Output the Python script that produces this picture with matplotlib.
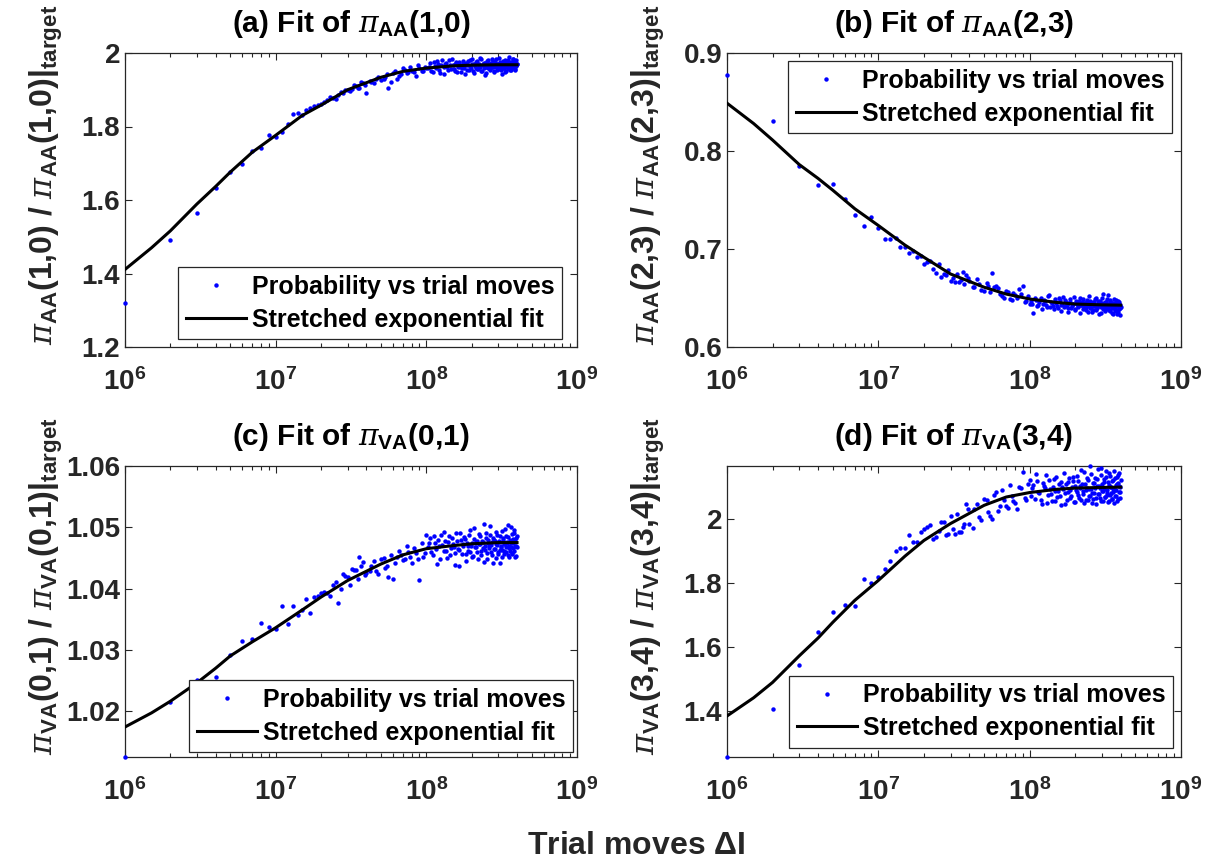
import numpy as np
import matplotlib
matplotlib.use("Agg")
import matplotlib.pyplot as plt
from matplotlib.ticker import LogLocator, NullFormatter, FixedLocator, FixedFormatter

plt.rcParams['font.family'] = ['Liberation Sans', 'DejaVu Sans']
plt.rcParams['font.weight'] = 'bold'
plt.rcParams['mathtext.fontset'] = 'custom'
plt.rcParams['mathtext.rm'] = 'Liberation Sans:weight=bold'
plt.rcParams['mathtext.bf'] = 'Liberation Sans:weight=bold'
plt.rcParams['mathtext.it'] = 'DejaVu Serif:style=italic:weight=normal'

# ---------------- data (trial moves in millions) ----------------
x_sparse = [1, 2, 3, 4, 5, 6, 7, 8, 9, 10, 11, 12, 13, 14, 15, 16, 17, 18, 19, 20,
            22, 24, 26, 28, 30, 32, 34, 36, 38, 40, 43, 46, 50, 53, 56, 60, 64, 68,
            72, 76, 80, 85, 90, 95, 100]
x_mid = [21, 23, 25, 27, 29, 31, 33, 35, 37, 39, 42, 45, 48, 52, 55, 58, 62, 66, 70,
         74, 78, 83, 88, 93, 98]
x_dense = list(range(102, 401, 4))
x_dense2 = list(range(104, 401, 4))
x_fit = [1, 1.5, 2, 3, 4, 5, 7, 10, 15, 20, 30, 50, 70, 100, 150, 200, 300, 400]

a_sparse = [1.320, 1.490, 1.565, 1.633, 1.676, 1.699, 1.733, 1.742, 1.776, 1.772,
            1.785, 1.806, 1.834, 1.837, 1.832, 1.845, 1.850, 1.856, 1.858, 1.861,
            1.872, 1.878, 1.886, 1.890, 1.900, 1.903, 1.910, 1.905, 1.918, 1.892,
            1.921, 1.928, 1.927, 1.935, 1.904, 1.946, 1.930, 1.942, 1.955, 1.948,
            1.950, 1.938, 1.960, 1.952, 1.959]
a_mid = [1.868, 1.879, 1.876, 1.893, 1.899, 1.897, 1.912, 1.906, 1.921, 1.913, 1.925,
         1.918, 1.936, 1.929, 1.942, 1.922, 1.950, 1.938, 1.958, 1.945, 1.961, 1.949,
         1.966, 1.952, 1.963]
a_dense = [1.958, 1.972, 1.949, 1.965, 1.977, 1.955, 1.968, 1.944, 1.971, 1.962,
           1.980, 1.957, 1.966, 1.951, 1.975, 1.963, 1.969, 1.948, 1.978, 1.960,
           1.973, 1.954, 1.967, 1.982, 1.959, 1.970, 1.946, 1.964, 1.976, 1.956,
           1.969, 1.961, 1.984, 1.952, 1.966, 1.974, 1.940, 1.963, 1.979, 1.958,
           1.971, 1.955, 1.968, 1.983, 1.961, 1.950, 1.975, 1.964, 1.970, 1.957,
           1.986, 1.962, 1.972, 1.953, 1.967, 1.978, 1.960, 1.969, 1.947, 1.974,
           1.965, 1.981, 1.958, 1.971, 1.963, 1.976, 1.954, 1.968, 1.985, 1.961,
           1.972, 1.956, 1.979, 1.966, 1.970]
a_dense2 = [1.963, 1.950, 1.975, 1.958, 1.969, 1.945, 1.980, 1.961, 1.972, 1.953,
            1.967, 1.983, 1.956, 1.970, 1.948, 1.976, 1.962, 1.959, 1.973, 1.942,
            1.968, 1.978, 1.955, 1.965, 1.984, 1.951, 1.971, 1.960, 1.977, 1.957,
            1.964, 1.987, 1.952, 1.969, 1.958, 1.974, 1.946, 1.966, 1.981, 1.960,
            1.956, 1.972, 1.963, 1.979, 1.949, 1.968, 1.961, 1.985, 1.954, 1.970,
            1.962, 1.975, 1.957, 1.967, 1.943, 1.973, 1.960, 1.982, 1.965, 1.951,
            1.977, 1.959, 1.969, 1.988, 1.955, 1.966, 1.974, 1.958, 1.983, 1.962,
            1.968, 1.953, 1.980, 1.964, 1.971]
a_fit = [1.411, 1.470, 1.516, 1.589, 1.637, 1.676, 1.730, 1.776, 1.830, 1.858,
         1.900, 1.934, 1.950, 1.959, 1.965, 1.967, 1.968, 1.968]

b_sparse = [0.8775, 0.8306, 0.7845, 0.7657, 0.7668, 0.7507, 0.7350, 0.7237, 0.7322, 0.7213,
            0.7100, 0.7100, 0.7110, 0.7020, 0.7020, 0.6964, 0.6980, 0.6916, 0.6930, 0.6848,
            0.6880, 0.6760, 0.6710, 0.6730, 0.6677, 0.6666, 0.6660, 0.6762, 0.6735, 0.6670,
            0.6615, 0.6640, 0.6570, 0.6620, 0.6752, 0.6620, 0.6545, 0.6500, 0.6560, 0.6480,
            0.6530, 0.6590, 0.6626, 0.6470, 0.6440]
b_mid = [0.6870, 0.6800, 0.6850, 0.6740, 0.6790, 0.6700, 0.6745, 0.6680, 0.6640, 0.6700,
         0.6610, 0.6690, 0.6585, 0.6650, 0.6560, 0.6610, 0.6600, 0.6520, 0.6570, 0.6490,
         0.6550, 0.6500, 0.6540, 0.6460, 0.6520]
b_dense = [0.6470, 0.6352, 0.6480, 0.6425, 0.6500, 0.6440, 0.6465, 0.6410, 0.6530, 0.6455,
           0.6420, 0.6490, 0.6445, 0.6400, 0.6475, 0.6430, 0.6510, 0.6415, 0.6460, 0.6395,
           0.6450, 0.6485, 0.6420, 0.6440, 0.6380, 0.6470, 0.6435, 0.6405, 0.6495, 0.6425,
           0.6455, 0.6390, 0.6445, 0.6410, 0.6480, 0.6360, 0.6430, 0.6465, 0.6400, 0.6440,
           0.6375, 0.6460, 0.6420, 0.6500, 0.6395, 0.6435, 0.6415, 0.6470, 0.6350, 0.6445,
           0.6425, 0.6540, 0.6400, 0.6455, 0.6385, 0.6430, 0.6490, 0.6410, 0.6440, 0.6365,
           0.6475, 0.6420, 0.6395, 0.6450, 0.6340, 0.6435, 0.6405, 0.6480, 0.6380, 0.6445,
           0.6415, 0.6360, 0.6460, 0.6400, 0.6425]
b_dense2 = [0.6440, 0.6505, 0.6415, 0.6460, 0.6390, 0.6475, 0.6430, 0.6520, 0.6405, 0.6450,
            0.6385, 0.6465, 0.6420, 0.6495, 0.6370, 0.6440, 0.6410, 0.6480, 0.6425, 0.6355,
            0.6460, 0.6400, 0.6435, 0.6515, 0.6390, 0.6450, 0.6420, 0.6470, 0.6345, 0.6430,
            0.6490, 0.6405, 0.6445, 0.6375, 0.6465, 0.6415, 0.6525, 0.6395, 0.6440, 0.6360,
            0.6455, 0.6420, 0.6485, 0.6380, 0.6430, 0.6470, 0.6335, 0.6445, 0.6410, 0.6500,
            0.6390, 0.6450, 0.6425, 0.6365, 0.6460, 0.6405, 0.6530, 0.6435, 0.6380, 0.6470,
            0.6415, 0.6345, 0.6445, 0.6400, 0.6490, 0.6370, 0.6430, 0.6455, 0.6340, 0.6420,
            0.6465, 0.6385, 0.6440, 0.6330, 0.6410]
b_fit = [0.8488, 0.8280, 0.8112, 0.7862, 0.7720, 0.7600, 0.7410, 0.7240, 0.7040, 0.6916,
         0.6745, 0.6610, 0.6540, 0.6490, 0.6455, 0.6438, 0.6430, 0.6427]

c_sparse = [1.0125, 1.0215, 1.0250, 1.0255, 1.0291, 1.0315, 1.0317, 1.0344, 1.0338, 1.0334,
            1.0371, 1.0342, 1.0371, 1.0357, 1.0365, 1.0383, 1.0360, 1.0386, 1.0388, 1.0392,
            1.0393, 1.0405, 1.0377, 1.0424, 1.0418, 1.0432, 1.0430, 1.0452, 1.0443, 1.0425,
            1.0437, 1.0428, 1.0448, 1.0433, 1.0418, 1.0415, 1.0452, 1.0455, 1.0448, 1.0460,
            1.0442, 1.0458, 1.0414, 1.0452, 1.0487]
c_mid = [1.0395, 1.0388, 1.0410, 1.0399, 1.0421, 1.0405, 1.0430, 1.0415, 1.0437, 1.0422,
         1.0428, 1.0445, 1.0423, 1.0450, 1.0436, 1.0455, 1.0441, 1.0462, 1.0447, 1.0470,
         1.0452, 1.0466, 1.0448, 1.0474, 1.0458]
c_dense = [1.0468, 1.0482, 1.0455, 1.0475, 1.0440, 1.0470, 1.0488, 1.0462, 1.0477, 1.0450,
           1.0485, 1.0466, 1.0473, 1.0458, 1.0491, 1.0464, 1.0436, 1.0479, 1.0469, 1.0484,
           1.0457, 1.0474, 1.0462, 1.0495, 1.0470, 1.0452, 1.0481, 1.0467, 1.0476, 1.0460,
           1.0489, 1.0472, 1.0455, 1.0478, 1.0466, 1.0505, 1.0463, 1.0483, 1.0448, 1.0474,
           1.0469, 1.0487, 1.0459, 1.0476, 1.0442, 1.0480, 1.0465, 1.0492, 1.0471, 1.0456,
           1.0478, 1.0463, 1.0486, 1.0468, 1.0451, 1.0482, 1.0473, 1.0461, 1.0497, 1.0467,
           1.0476, 1.0454, 1.0484, 1.0470, 1.0462, 1.0500, 1.0474, 1.0458, 1.0481, 1.0466,
           1.0490, 1.0452, 1.0477, 1.0469, 1.0485]
c_dense2 = [1.0474, 1.0459, 1.0486, 1.0465, 1.0479, 1.0448, 1.0471, 1.0493, 1.0462, 1.0476,
            1.0454, 1.0483, 1.0468, 1.0439, 1.0477, 1.0463, 1.0490, 1.0457, 1.0473, 1.0481,
            1.0445, 1.0470, 1.0487, 1.0460, 1.0475, 1.0453, 1.0498, 1.0467, 1.0478, 1.0449,
            1.0472, 1.0485, 1.0461, 1.0476, 1.0443, 1.0469, 1.0490, 1.0458, 1.0480, 1.0466,
            1.0502, 1.0471, 1.0455, 1.0483, 1.0464, 1.0477, 1.0450, 1.0473, 1.0488, 1.0460,
            1.0476, 1.0441, 1.0469, 1.0494, 1.0463, 1.0479, 1.0456, 1.0472, 1.0485, 1.0459,
            1.0474, 1.0503, 1.0466, 1.0451, 1.0480, 1.0468, 1.0489, 1.0457, 1.0475, 1.0462,
            1.0496, 1.0470, 1.0453, 1.0482, 1.0467]
c_fit = [1.0174, 1.0197, 1.0216, 1.0246, 1.0270, 1.0290, 1.0313, 1.0336, 1.0365, 1.0386,
         1.0413, 1.0440, 1.0455, 1.0465, 1.0470, 1.0473, 1.0475, 1.0475]

d_sparse = [1.2547, 1.404, 1.542, 1.646, 1.708, 1.731, 1.728, 1.810, 1.798, 1.817,
            1.844, 1.867, 1.899, 1.909, 1.908, 1.950, 1.927, 1.927, 1.958, 1.967,
            1.979, 1.944, 1.990, 1.948, 2.010, 1.953, 1.960, 1.975, 2.047, 1.984,
            2.030, 2.005, 2.063, 2.020, 2.000, 2.085, 2.040, 2.060, 2.035, 2.070,
            2.050, 2.100, 2.145, 2.060, 2.120]
d_mid = [1.975, 1.938, 1.962, 1.990, 1.952, 1.968, 2.015, 1.960, 1.985, 2.030, 1.970,
         2.045, 1.995, 2.060, 2.010, 2.075, 2.025, 2.090, 2.040, 2.105, 2.055, 2.030,
         2.095, 2.065, 2.110]
d_dense = [2.070, 2.105, 2.140, 2.085, 2.060, 2.112, 2.095, 2.048, 2.122, 2.078,
           2.100, 2.055, 2.131, 2.088, 2.070, 2.115, 2.092, 2.045, 2.108, 2.083,
           2.127, 2.066, 2.098, 2.118, 2.052, 2.090, 2.135, 2.075, 2.104, 2.060,
           2.110, 2.086, 2.145, 2.058, 2.097, 2.120, 2.072, 2.164, 2.093, 2.050,
           2.113, 2.081, 2.128, 2.065, 2.102, 2.157, 2.077, 2.095, 2.138, 2.056,
           2.108, 2.087, 2.125, 2.068, 2.150, 2.091, 2.074, 2.116, 2.054, 2.100,
           2.134, 2.082, 2.061, 2.121, 2.094, 2.148, 2.071, 2.106, 2.089, 2.130,
           2.063, 2.111, 2.142, 2.084, 2.099]
d_dense2 = [2.095, 2.062, 2.118, 2.080, 2.047, 2.103, 2.136, 2.073, 2.092, 2.055,
            2.125, 2.086, 2.067, 2.110, 2.043, 2.098, 2.142, 2.079, 2.058, 2.114,
            2.090, 2.070, 2.132, 2.053, 2.101, 2.084, 2.119, 2.064, 2.097, 2.153,
            2.076, 2.049, 2.108, 2.089, 2.127, 2.059, 2.094, 2.072, 2.139, 2.082,
            2.061, 2.112, 2.096, 2.046, 2.123, 2.078, 2.104, 2.066, 2.160, 2.087,
            2.057, 2.115, 2.093, 2.069, 2.130, 2.081, 2.052, 2.107, 2.144, 2.074,
            2.099, 2.063, 2.117, 2.085, 2.048, 2.126, 2.091, 2.071, 2.109, 2.056,
            2.137, 2.083, 2.101, 2.065, 2.120]
d_fit = [1.383, 1.440, 1.488, 1.571, 1.627, 1.676, 1.745, 1.807, 1.883, 1.932,
         1.985, 2.042, 2.068, 2.082, 2.092, 2.096, 2.098, 2.099]

titles = [r'(a) Fit of $\pi_{\mathbf{AA}}$(1,0)', r'(b) Fit of $\pi_{\mathbf{AA}}$(2,3)',
          r'(c) Fit of $\pi_{\mathbf{VA}}$(0,1)', r'(d) Fit of $\pi_{\mathbf{VA}}$(3,4)']
ylabels = [r'$\pi_{\mathbf{AA}}$(1,0) / $\pi_{\mathbf{AA}}$(1,0)$|_{\mathbf{target}}$',
           r'$\pi_{\mathbf{AA}}$(2,3) / $\pi_{\mathbf{AA}}$(2,3)$|_{\mathbf{target}}$',
           r'$\pi_{\mathbf{VA}}$(0,1) / $\pi_{\mathbf{VA}}$(0,1)$|_{\mathbf{target}}$',
           r'$\pi_{\mathbf{VA}}$(3,4) / $\pi_{\mathbf{VA}}$(3,4)$|_{\mathbf{target}}$']
ylims = [(1.2, 2.0), (0.6, 0.9), (1.0125, 1.06), (1.2547, 2.165)]
yticks = [[1.2, 1.4, 1.6, 1.8, 2.0], [0.6, 0.7, 0.8, 0.9],
          [1.02, 1.03, 1.04, 1.05, 1.06], [1.4, 1.6, 1.8, 2.0]]
yticklabels = [['1.2', '1.4', '1.6', '1.8', '2'], ['0.6', '0.7', '0.8', '0.9'],
               ['1.02', '1.03', '1.04', '1.05', '1.06'], ['1.4', '1.6', '1.8', '2']]
xticks = [1e6, 1e7, 1e8, 1e9]
xticklabels = [r'$\mathbf{10^{6}}$', r'$\mathbf{10^{7}}$', r'$\mathbf{10^{8}}$', r'$\mathbf{10^{9}}$']
series = [(a_sparse, a_mid, a_dense, a_dense2, a_fit),
          (b_sparse, b_mid, b_dense, b_dense2, b_fit),
          (c_sparse, c_mid, c_dense, c_dense2, c_fit),
          (d_sparse, d_mid, d_dense, d_dense2, d_fit)]
legend_loc = ['lower right', 'upper right', 'lower right', 'lower right']
legend_anchor = [(0.967, 0.027), (0.980, 0.9715), (0.991, 0.017), (0.983, 0.032)]

# ---------------- figure ----------------
W, H = 1210, 868
fig = plt.figure(figsize=(W / 100, H / 100), dpi=100)
boxes = [(125, 53, 577, 347), (727, 53, 1181, 347), (125, 466, 577, 757), (727, 466, 1181, 757)]
axc = '#262626'
for i, (l, t, r, b) in enumerate(boxes):
    ax = fig.add_axes([l / W, 1 - b / H, (r - l) / W, (b - t) / H])
    sp, md, dn, dn2, ft = series[i]
    xs = np.array(x_sparse + x_mid + x_dense + x_dense2) * 1e6
    ys = np.array(sp + md + dn + dn2)
    ax.plot(xs, ys, linestyle='none', marker='o', markersize=3.2, color='#0000ff',
            markeredgewidth=0, label='Probability vs trial moves', clip_on=False, zorder=3)
    ax.plot(np.array(x_fit) * 1e6, ft, color='black', linewidth=2.2,
            label='Stretched exponential fit', zorder=4)
    ax.set_xscale('log')
    ax.set_xlim(1e6, 1e9)
    ax.set_ylim(*ylims[i])
    ax.xaxis.set_major_locator(FixedLocator(xticks))
    ax.xaxis.set_major_formatter(FixedFormatter(xticklabels))
    ax.xaxis.set_minor_locator(LogLocator(base=10, subs=np.arange(2, 10)))
    ax.xaxis.set_minor_formatter(NullFormatter())
    ax.set_yticks(yticks[i])
    ax.set_yticklabels(yticklabels[i])
    ax.tick_params(which='both', direction='in', top=True, right=True, colors=axc,
                   labelcolor='#262626', labelsize=20, width=0.8)
    ax.tick_params(which='major', length=5)
    ax.tick_params(which='minor', length=3)
    ax.tick_params(axis='x', which='major', pad=15)
    for s in ax.spines.values():
        s.set_color(axc)
        s.set_linewidth(0.9)
    for lab in ax.get_yticklabels():
        lab.set_fontweight('bold')
    ax.set_title(titles[i], fontsize=21.5, fontweight='bold', pad=15, color='black')
    ax.set_ylabel(ylabels[i], fontsize=23, fontweight='bold', color='#262626')
    ax.yaxis.label.set_horizontalalignment('left')
    ax.yaxis.set_label_coords(-0.133, 0.006)
    leg = ax.legend(loc=legend_loc[i], bbox_to_anchor=legend_anchor[i], borderaxespad=0,
                    fontsize=18, frameon=True, fancybox=False, framealpha=1,
                    edgecolor=axc, handlelength=2.4, handletextpad=0.25,
                    borderpad=0.3, labelspacing=0.35, markerscale=1.0)
    leg.get_frame().set_linewidth(0.9)
    leg.set_zorder(10)
    for txt in leg.get_texts():
        txt.set_fontweight('bold')
        txt.set_color('black')

fig.text(636 / W, 1 - 846 / H, r'Trial moves $\mathbf{\Delta}$I', ha='center', va='center',
         fontsize=23, fontweight='bold', color='#262626')

fig.savefig('out.png', dpi=100)
